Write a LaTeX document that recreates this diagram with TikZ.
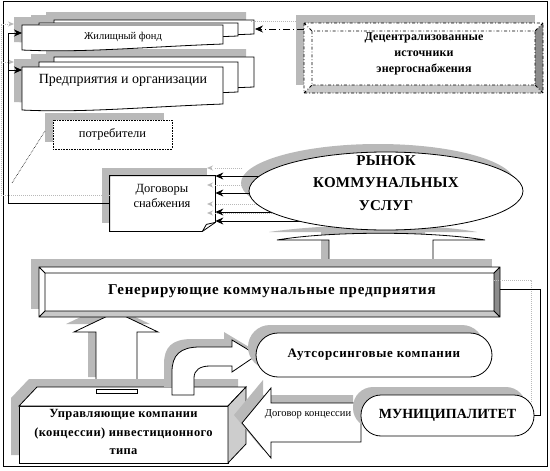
\documentclass[tikz,border=0pt]{standalone}
\usepackage{fontspec}
\setmainfont{Liberation Serif}
\usetikzlibrary{arrows.meta, shapes, calc}
\definecolor{shadowgray}{RGB}{185,185,185}
\definecolor{bevellight}{RGB}{200,200,200}
\definecolor{beveldark}{RGB}{140,140,140}
\definecolor{facegray}{RGB}{205,205,205}

\begin{document}
\begin{tikzpicture}[x=1pt, y=-1pt, line width=0.8pt,
  shadowfill/.style={fill=shadowgray, draw=none},
  sheet/.style={draw, fill=white},
  feed/.style={-{Stealth[length=8pt, width=7pt]}},
  softfeed/.style={-{Stealth[length=6pt, width=5pt]}, shadowgray, densely dotted, line width=1pt},
  ghost/.style={shadowgray, densely dotted, line width=1pt},
  small/.style={font=\fontsize{10.5}{12}\selectfont, align=center},
  plain/.style={font=\fontsize{12.5}{15}\selectfont, align=center},
  heavy/.style={font=\fontsize{13}{17}\selectfont\bfseries\addfontfeature{LetterSpace=3}, align=center},
]
\useasboundingbox (0,0) rectangle (550,471);
\draw (3,1.5) rectangle (547,466);

% Housing stock and enterprises (stacked sheets)
\foreach \l/\t/\r/\b in {54/20/254/40, 39/23/238/42, 22/25/223/50,
                          54/57/254/93, 39/62/238/98, 22/67/223/110}
  \fill[shadowfill, shift={(-8,-8)}] (\l,\t) -- (\r,\t) -- (\r,\b-6)
    .. controls ({\r-0.4*(\r-\l)},\b-3) and ({\l+0.3*(\r-\l)},\b+3) .. (\l,\b) -- cycle;
\foreach \l/\t/\r/\b in {54/20/254/40, 39/23/238/42, 22/25/223/50,
                          54/57/254/93, 39/62/238/98, 22/67/223/110}
  \draw[sheet] (\l,\t) -- (\r,\t) -- (\r,\b-6)
    .. controls ({\r-0.4*(\r-\l)},\b-3) and ({\l+0.3*(\r-\l)},\b+3) .. (\l,\b) -- cycle;
\node[small] (housing) at (123,37) {Жилищный фонд};
\node[font=\fontsize{14}{16}\selectfont] (firms) at (123,80) {Предприятия и организации};
\coordinate (housingIn) at (22,33);
\coordinate (firmsIn) at (22,70);
\coordinate (housingBack) at (255,29);

% Decentralised sources
\fill[shadowfill] (296,15) rectangle (535,85);
\fill[white] (304,23) rectangle (543,93);
\fill[bevellight] (304,93) -- (543,93) -- (535,85) -- (312,85) -- cycle;
\fill[beveldark] (543,23) -- (543,93) -- (535,85) -- (535,31) -- cycle;
\draw[dash dot] (304,23) rectangle (543,93) (312,31) rectangle (535,85)
  (304,23) -- (312,31) (543,23) -- (535,31) (304,93) -- (312,85) (543,93) -- (535,85);
\node[heavy, font=\fontsize{12}{16}\selectfont\bfseries\addfontfeature{LetterSpace=1}] (decentral) at (424,54)
  {Децентрализованные\\источники\\энергоснабжения};
\coordinate (decIn) at (304,29);
\draw[ghost] (296,21) -- (250,21);
\draw[feed, dash pattern=on 7pt off 3pt on 1pt off 3pt] (decIn) -- (housingBack);

% Consumers
\fill[shadowfill] (45,113) rectangle (164,142);
\node[draw, densely dotted, line width=0.6pt, fill=white, minimum width=119pt,
      minimum height=29pt, plain] (users) at (112.5,134.5) {потребители};
\coordinate (usersTip) at (45,131);
\coordinate (usersTail) at (12,183);
\draw[densely dotted, line width=0.6pt] (usersTip) -- (usersTail);

% Supply contracts
\fill[shadowfill] (102,168) rectangle (207,223);
\node[fill=white, minimum width=105pt, minimum height=55pt, inner sep=0pt] (supply) at (162.5,203.5) {};
\draw (supply.north west) -- (supply.north east) -- ($(supply.south east)+(0,-9)$)
  -- ($(supply.south east)+(-13,0)$) -- (supply.south west) -- cycle;
\draw ($(supply.south east)+(-13,0)$) -- ($(supply.south east)+(-9,-7)$) -- ($(supply.south east)+(0,-9)$);
\node[plain] (supplytext) at (162,196) {Договоры\\снабжения};

% Bus on the left
\coordinate (bus) at (8,33);
\draw[ghost] ($(supply.west)+(0,-8)$) -| (1,24);
\draw[softfeed] (1,24) -- (14,24);
\draw[softfeed] (1,62) -- (14,62);
\draw[feed] (supply.west) -| (bus) -- (housingIn);
\draw[feed] (bus |- firmsIn) -- (firmsIn);

% Market
\fill[shadowfill] (269,232) .. controls (330,223) and (430,223) .. (477,232) -- (425,232) -- (425,259) -- (321,259) -- (321,232) -- cycle;
\draw[fill=white] (277,240) .. controls (330,231) and (430,231) .. (485,240) -- (433,240)
  -- (433,267) -- (329,267) -- (329,240) -- cycle;
\fill[shadowfill] (378,183) ellipse [x radius=137, y radius=39];
\foreach \y/\x in {168/242, 185/250, 204/265, 213/310}
  \draw[ghost] (\x,\y) -- (215,\y);
\foreach \y/\x in {176/300, 193/300, 212/300, 221/320}
  \draw[feed] (\x,\y) -- (supply.east |- 0,\y);
\foreach \y in {168, 185, 204, 213}
  \draw[softfeed, solid] (211,\y) -- (207,\y);
\node[ellipse, draw, fill=white, minimum width=274pt, minimum height=78pt, inner sep=0pt] (market) at (386,191) {};
\node[font=\fontsize{15}{22.5}\selectfont\bfseries\addfontfeature{LetterSpace=2}, align=center] (markettext) at (386,183)
  {РЫНОК\\КОММУНАЛЬНЫХ\\УСЛУГ};

% Up arrow to generating companies
\fill[shadowfill, shift={(-8,-8)}] (96,385) -- (96,332) -- (74,332) -- (116,312) -- (158,332) -- (137,332) -- (137,385) -- cycle;
\draw[fill=white] (96,383) -- (96,332) -- (74,332) -- (116,312) -- (158,332) -- (137,332) -- (137,383) -- cycle;

% Generating companies
\fill[shadowfill] (31,259) rectangle (492,309);
\fill[white] (39,267) rectangle (500,317);
\fill[bevellight] (39,317) -- (500,317) -- (494,311) -- (45,311) -- cycle;
\fill[beveldark] (500,267) -- (500,317) -- (494,311) -- (494,273) -- cycle;
\draw (39,267) rectangle (500,317) (45,273) rectangle (494,311)
  (39,267) -- (45,273) (500,267) -- (494,273) (39,317) -- (45,311) (500,317) -- (494,311);
\node[heavy, font=\fontsize{15}{17}\selectfont\bfseries\addfontfeature{LetterSpace=5}] (gen) at (272,291)
  {Генерирующие коммунальные предприятия};
\coordinate (genOut) at (500,289);

% Managing companies (box)
\fill[shadowfill, shift={(-8,-8)}] (19,463) -- (19,406) -- (37,387) -- (246,387) -- (246,444) -- (228,463) -- cycle;
\draw[fill=white] (19,406) rectangle (228,463);
\draw[fill=white] (19,406) -- (37,387) -- (246,387) -- (228,406) -- cycle;
\draw[fill=facegray] (228,406) -- (246,387) -- (246,444) -- (228,463) -- cycle;
\draw[fill=white] (96,389) rectangle (137,393);
\node[heavy, font=\fontsize{12.5}{18.5}\selectfont\bfseries\addfontfeature{LetterSpace=3}] (manage) at (123.5,432)
  {Управляющие компании\\(концессии) инвестиционного\\типа};

% Bent arrow to outsourcing
\fill[shadowfill, shift={(-8,-8)}] (172,395) -- (172,372) .. controls (172,355) and (180,347) .. (200,347)
  -- (232,347) -- (232,340) -- (257,355) -- (232,372) -- (232,366) -- (210,366)
  .. controls (200,366) and (194,370) .. (194,378) -- (194,395) -- cycle;
\draw[fill=white] (172,395) -- (172,372) .. controls (172,355) and (180,347) .. (200,347)
  -- (232,347) -- (232,340) -- (257,355) -- (232,372) -- (232,366) -- (210,366)
  .. controls (200,366) and (194,370) .. (194,378) -- (194,395) -- cycle;

% Outsourcing
\fill[shadowfill, rounded corners=22pt] (248,325) rectangle (484,369);
\node[draw, fill=white, rounded corners=22pt, minimum width=236pt, minimum height=44pt,
      heavy, font=\fontsize{13}{17}\selectfont\bfseries\addfontfeature{LetterSpace=5}] (outsrc) at (374,355) {Аутсорсинговые компании};

% Concession arrow
\fill[shadowfill, shift={(-8,-8)}] (242,423) -- (271,388) -- (271,403) -- (361,403) -- (361,442) -- (271,442) -- (271,458) -- cycle;
\draw[fill=white] (242,423) -- (271,388) -- (271,403) -- (361,403) -- (361,442) -- (271,442) -- (271,458) -- cycle;
\node[small] (concession) at (308,414) {Договор концессии};

% Municipality
\fill[shadowfill, rounded corners=20pt] (353,387) rectangle (526,428);
\node[draw, fill=white, rounded corners=20pt, minimum width=173pt, minimum height=41pt,
      font=\fontsize{14}{16}\selectfont\bfseries] (city) at (447.5,415.5) {МУНИЦИПАЛИТЕТ};

% Link generating -- municipality
\draw[ghost] (494,280) -| (531,402);
\draw (genOut) -- (540,289) |- (city.east);
\end{tikzpicture}
\end{document}
